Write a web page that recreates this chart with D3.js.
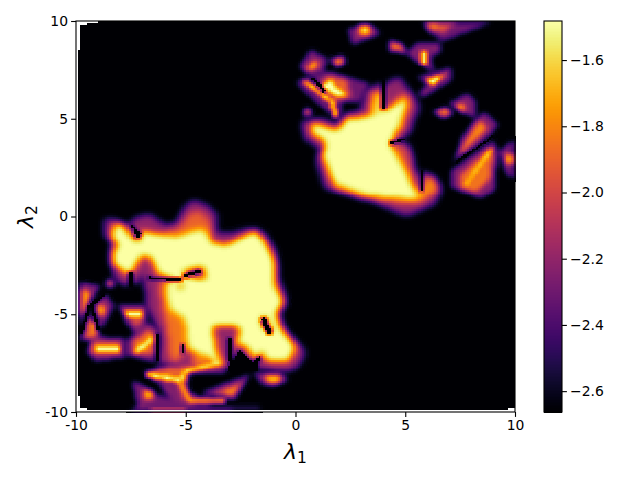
<!DOCTYPE html>
<html><head><meta charset="utf-8">
<script src="https://cdn.jsdelivr.net/npm/d3@7"></script>
<style>html,body{margin:0;background:#fff}svg{display:block}text{font-family:"DejaVu Sans";fill:#000}</style>
</head><body><svg id="c" width="640" height="480"></svg>
<script>
const xTicks=[-10,-5,0,5,10];
const yTicks=[-10,-5,0,5,10];
const colorbarTicks=[-1.6,-1.8,-2.0,-2.2,-2.4,-2.6];
const valueMin=-2.663, valueMax=-1.482;
const gridSize=200;
// Regions: [value, polygon in (lambda1, lambda2)], later ones on top.
const leftCluster=[
[-2.25,[[-9.85,-3.3],[-8.9,-3.55],[-9.5,-4.45],[-9.85,-5.9]]],
[-1.75,[[-9.75,-3.7],[-9.3,-3.9],[-9.55,-4.7],[-9.75,-5]]],
[-2.25,[[-9.35,-4.5],[-9.05,-5.7],[-8.95,-6.25],[-9.8,-6.25]]],
[-1.85,[[-9.4,-5.2],[-9.05,-5.4],[-9,-6.2],[-9.6,-6.2]]],
[-2.25,[[-9.3,-4.35],[-8.65,-3.95],[-8.25,-4.55],[-8.85,-5.7]]],
[-1.65,[[-9.05,-4.5],[-8.65,-4.5],[-8.7,-5],[-9,-5.05]]],
[-2.25,[[-8.05,-4.55],[-6.8,-4.5],[-6.75,-5.2],[-7.25,-6.1],[-7.7,-5.4]]],
[-1.95,[[-7.85,-4.7],[-6.9,-4.7],[-6.95,-5.25],[-7.25,-5.6],[-7.6,-5.1]]],
[-2.25,[[-9.5,-6.9],[-9.2,-6.1],[-7.8,-6.25],[-7.8,-7.15],[-9.05,-7.35]]],
[-1.85,[[-9.3,-6.35],[-7.95,-6.4],[-7.95,-7],[-9.3,-7]]],
[-2.25,[[-7.65,-6.3],[-6.7,-5.35],[-6.2,-5.8],[-6.4,-7.4],[-7.7,-7.05]]],
[-1.85,[[-7.45,-6.4],[-6.65,-5.75],[-6.4,-6],[-6.5,-7],[-7.45,-7]]],
[-1.95,[[-8.6,-3.2],[-8.3,-3.2],[-8.35,-3.65],[-8.6,-3.65]]]
];
const mainLower=[
[-2.2,[[-8.6,-0.8],[-8.6,-0.25],[-8.4,-0.2],[-7.55,-0.6],[-7.15,-0.1],[-6.65,0],[-5.95,-0.6],[-5.3,-0.35],[-4.9,0.5],[-4.6,0.7],[-4.15,0.5],[-3.7,0.1],[-3.75,-0.85],[-3,-0.95],[-1.95,-0.65],[-1.5,-0.95],[-1,-1.9],[-0.85,-3.25],[-0.6,-4.1],[-0.9,-4.95],[-0.6,-5.9],[0.35,-6.9],[-0.1,-7.7],[-0.6,-7.8],[-1.35,-7.7],[-2.4,-7.4],[-3.15,-7.7],[-4.8,-7.7],[-6.2,-7.35],[-6.05,-5.95],[-6.25,-5.45],[-6.65,-4.6],[-6.8,-3.15],[-7,-2.3],[-7.25,-3.25],[-7.7,-3.4],[-8.15,-3],[-8.3,-2.05],[-8.25,-1.2]]],
[-1.9,[[-5.9,-0.85],[-5.2,-0.6],[-4.75,0.05],[-4.45,0.15],[-4,-0.2],[-3.85,-1.2],[-5.7,-1.2]]],
[-1.85,[[-6.1,-3.35],[-5.8,-3.5],[-5.8,-4.6],[-5.05,-5.1],[-5,-6.65],[-5.6,-7.35],[-5.8,-5.55],[-6,-4.6]]],
[-1.482,[[-8.3,-1.1],[-8.25,-0.7],[-8.05,-0.35],[-7.7,-0.85],[-7.3,-1.35],[-7,-1.3],[-7,-0.8],[-5.4,-1.1],[-4.3,-0.65],[-3.85,-1.35],[-3.15,-1.55],[-1.85,-0.8],[-1.35,-1.55],[-1,-2.3],[-1,-3.6],[-0.6,-4.35],[-0.95,-4.85],[-0.75,-5.65],[-0.1,-6.65],[-0.4,-7.35],[-1.2,-7.25],[-1.35,-7.15],[-1.55,-6.5],[-1.8,-7.15],[-2.25,-6.5],[-2.6,-6.5],[-2.45,-5.7],[-2.7,-5.45],[-3.9,-5.45],[-3.6,-7.15],[-3.4,-7.5],[-4.2,-7.15],[-4.8,-6.65],[-5,-5.05],[-5.7,-4.6],[-5.85,-3.5],[-5.25,-3.15],[-6.2,-2.8],[-6.5,-2.05],[-7,-1.8],[-7.6,-2.8],[-8.25,-2.3],[-8.3,-1.9],[-7.85,-1.4]]],
[-2.2,[[-5.4,-3.25],[-5,-3.25],[-5.15,-4.15],[-5.35,-3.8]]],
[-2.2,[[-5.3,-3.1],[-5.05,-2.65],[-4.15,-2.4],[-4,-3.2]]],
[-1.85,[[-4.6,-6.75],[-3.5,-7.25],[-4.6,-7.65]]],
[-2.2,[[-1.65,-5.05],[-1.35,-4.85],[-0.95,-5.9],[-1.2,-6.1],[-1.6,-5.55]]],
[-2.2,[[-1.2,-6.7],[-0.6,-7.1],[-1.2,-7.15]]]
];
const lowerFeatures=[
[-2.25,[[-6.95,-7.95],[-6.05,-7.6],[-4.65,-7.2],[-3.15,-7.75],[-3.15,-7.95],[-4.8,-8],[-5.05,-8.85],[-4.35,-9.2],[-3.15,-9.35],[-5,-9.6],[-5.3,-9.6],[-5.9,-9.05],[-6.2,-8.55]]],
[-1.9,[[-6.7,-7.95],[-5.9,-7.75],[-3.4,-7.4],[-3.4,-7.7],[-5,-8],[-5.05,-8.4],[-4.75,-9.3],[-3.3,-9.3],[-5.05,-9.45],[-5.4,-8.45],[-6.45,-8.25]]],
[-2.25,[[-1.9,-8],[-0.6,-8],[-0.35,-8.4],[-1.05,-8.65],[-1.55,-8.55]]],
[-1.65,[[-1.4,-8.1],[-0.7,-8.15],[-0.7,-8.45],[-1.3,-8.45]]],
[-2.25,[[-4.35,-9],[-2.05,-8.05],[-2.8,-9.35]]],
[-1.8,[[-3.6,-8.95],[-2.4,-8.5],[-2.85,-9.15]]],
[-2.3,[[-7.55,-9.9],[-6.35,-9.05],[-5.9,-9.2],[-5.1,-9.6],[-1.65,-9.75],[-4.2,-9.95]]],
[-2.25,[[-7.45,-8.35],[-6.35,-9],[-6.45,-9.4],[-7.15,-9.8]]],
[-1.65,[[-6.9,-8.8],[-6.5,-8.9],[-6.5,-9.3],[-6.9,-9.3]]]
];
const upperMain=[
[-2.2,[[0.4,4.75],[1.1,4.95],[1.95,4.5],[2.4,5.2],[3.05,5.3],[3.25,6.4],[3.85,6.65],[3.9,5.45],[4.15,6.65],[4.65,7],[5.4,5.95],[5.5,5.6],[5.1,4.4],[4.5,3.9],[5.1,3.55],[5.35,2.45],[5.65,1.45],[5.8,2.3],[6.55,1.45],[6.25,0.75],[5.05,0.2],[3.5,0.95],[1.45,1.6],[1.05,3],[1.4,3.5],[0.55,4.1]]],
[-1.6,[[3.5,5.2],[3.6,6.3],[3.85,6.3],[3.85,5.2]]],
[-1.8,[[4.45,5.7],[5,6.2],[5.1,5.7],[4.75,4.5]]],
[-2.0,[[4.5,3.65],[5.1,3.5],[5.4,1.1],[4.9,2.1]]],
[-1.8,[[1.7,1.6],[3.2,1],[5.5,0.75],[6.4,1.45],[6.2,2.1],[5.7,1.3]]],
[-1.482,[[2.4,5],[3.75,5.1],[4.15,5.35],[5,5.95],[4.65,4.7],[4.35,4],[4.35,3.5],[4.95,2.3],[5.5,1],[4.45,1.1],[3.2,1.25],[1.8,1.85],[1.3,3.15],[1.5,3.9],[0.8,4.35],[0.8,4.7],[1.95,4.35]]]
];
const upperFeatures=[
[-2.3,[[1.55,7.45],[3.35,6.85],[2.95,5.9],[2.15,5.85],[2,4.9],[1.6,5.3],[0.15,6.65],[0.05,6.95],[0.7,7.2]]],
[-1.9,[[1.45,7.25],[2.35,7],[2.55,6.1],[1.8,6],[0.95,6.65]]],
[-2.25,[[0.15,7.65],[0.7,8.55],[1.45,8.1],[1.3,7.45],[0.65,7.25]]],
[-1.65,[[0.6,7.8],[1,8.05],[1,7.6],[0.5,7.45]]],
[-1.8,[[1.65,8.05],[2.25,8.25],[2.25,7.8],[1.85,7.7]]],
[-1.75,[[0.3,5.15],[0.55,5.6],[0.8,5.15]]],
[-2.25,[[2.4,9.6],[2.85,9.75],[3.45,9.75],[3.9,9.4],[2.6,8.8]]],
[-1.6,[[2.85,9.8],[3.4,9.8],[3.35,9.35],[2.85,9.25]]],
[-2.3,[[5.75,9.95],[9,9.95],[6.7,9],[5.95,9.55]]],
[-1.95,[[5.95,9.95],[7.4,9.95],[6.7,9.4],[6.1,9.6]]],
[-1.75,[[5.95,9.95],[6.6,9.95],[6.4,9.65],[6.1,9.65]]],
[-1.85,[[4.3,9.05],[4.9,8.8],[5,8.4],[4.3,8.55]]],
[-2.25,[[5.05,8.35],[5.55,8.9],[6.65,8.9],[6.6,8.45],[6.15,8.2],[6.3,7.45],[5.95,7.6]]],
[-2.25,[[5.6,7.15],[7.1,7.65],[7.1,7],[5.95,6.25],[5.6,6.25],[5.95,6.75]]],
[-1.85,[[6.35,5.35],[6.8,5.6],[7.2,5.3],[6.7,5.05]]],
[-2.25,[[7.05,5.85],[7.85,6.35],[8.2,5.9],[8.15,5.05],[7.4,5.45]]],
[-1.7,[[7.3,5.7],[7.7,5.85],[7.65,5.3]]],
[-2.25,[[7.2,2.75],[7.55,4],[8.2,5],[8.6,5.35],[9.25,4.75],[8.75,4.05]]],
[-1.8,[[7.55,3.55],[8.4,5],[8.75,4.6],[8.6,4.35],[7.45,3.15]]],
[-2.25,[[7.05,2.3],[9,3.95],[9.2,3.55],[9.1,1.4],[8.4,0.95],[7.1,1.55]]],
[-1.85,[[7.45,2.1],[8.85,3.5],[9,3.15],[8.85,1.95],[8.25,1.25],[7.55,1.5]]],
[-2.25,[[9.3,3.3],[9.95,4.05],[9.95,1.9],[9.6,2.25]]],
[-1.6,[[9.6,3.25],[9.95,3.25],[9.95,2.65],[9.6,2.65]]]
];
// Thin ridges, painted over the regions.
const ridges=[
[-1.5,[[-6.8,-7.95],[-5.2,-8.25],[-5.2,-8.5],[-6.8,-8.2]]],
[-1.55,[[-5.2,-8.25],[-5.1,-7.8],[-3.4,-7.35],[-3.4,-7.55],[-5,-8],[-5.05,-8.4]]],
[-1.7,[[-5.2,-8.4],[-4.75,-9.3],[-3.15,-9.25],[-3.15,-9.45],[-4.85,-9.5],[-5.4,-8.45]]],
[-1.85,[[-6.6,-9.75],[-5,-9.75],[-5,-9.95],[-6.6,-9.95]]],
[-1.5,[[-7.85,-4.75],[-7,-4.8],[-7,-5.1],[-7.7,-5.05]]],
[-1.5,[[-9.1,-6.6],[-8,-6.6],[-8,-6.9],[-9.1,-6.9]]],
[-1.5,[[-7.3,-6.75],[-6.5,-6.1],[-6.45,-6.35],[-7.25,-7]]],
[-1.482,[[1.6,7.05],[1.85,6.65],[2.45,6.15],[1.8,6.25],[1.1,6.65]]],
[-1.5,[[0.35,6.85],[1.6,5.85],[1.7,5.1],[1.95,5.15],[1.75,5.95],[0.45,7]]],
[-1.55,[[5.7,8.5],[6,8.5],[6,7.8],[5.7,7.8]]],
[-1.5,[[5.95,7.05],[6.9,7.3],[6.2,6.7]]],
[-1.5,[[7.75,1.55],[9,3.45],[8.85,3.5],[7.6,1.45]]]
];
const slits=[
[[-7.5,-0.35],[-7.05,-0.85],[-7.2,-1.15],[-7.45,-0.65]],
[[-6.65,-3.05],[-5.2,-3.15],[-5.2,-3.3],[-6.65,-3.2]],
[[-7.6,-2.8],[-7.45,-2.8],[-7.45,-3.6],[-7.6,-3.6]],
[[-5.05,-3.1],[-4.25,-2.85],[-4.25,-2.65],[-5.05,-2.9]],
[[-3.15,-6.15],[-2.95,-6.15],[-2.9,-7.4],[-3.1,-7.4]],
[[-3.1,-7.7],[-2.6,-6.8],[-1.95,-7.35],[-1.6,-7.1],[-1.75,-7.9],[-3,-8]],
[[-5.2,-6.55],[-5.05,-6.55],[-5.05,-7],[-5.2,-7]],
[[-1.6,-5.2],[-1.4,-5.05],[-1.05,-6],[-1.25,-6.05]],
[[-8.7,-3.9],[-9.35,-4.4],[-9.4,-4.65],[-8.75,-4.15]],
[[-9.45,-4.5],[-9.85,-6],[-9.7,-6],[-9.3,-4.5]],
[[-9.4,-4.5],[-9.05,-5.8],[-8.9,-5.8],[-9.25,-4.5]],
[[-6.35,-5.95],[-6.15,-5.95],[-6.25,-7.45],[-6.45,-7.45]],
[[3.93,7],[4.07,7],[4.07,5.5],[3.93,5.5]],
[[4.3,3.7],[5,3.9],[5,4.05],[4.3,3.85]],
[[5.65,2.45],[5.85,2.45],[5.85,1.3],[5.7,1.3]],
[[0.7,7.05],[1.25,6.35],[1.4,6.45],[0.85,7.15]],
[[7.3,2.7],[9,4.0],[9,4.2],[7.3,2.9]]
];
// Cells with no value: [x0,x1,y0,y1].
const blankCells=[[-10,-9.9,-10,10],[-9.9,-9.8,-9.9,-9.2],[-9.8,-9.5,-9.9,-9.8],[-9.9,-9.5,9.8,10],[-9.5,-9,9.9,10],[-9.9,-9.8,8.5,9.8],[9.7,10,-9.9,-9.8],[-10,10,-10,-9.9]];

const svg=d3.select('#c');
const x=d3.scaleLinear().domain([-10,10]).range([76,515]);
const y=d3.scaleLinear().domain([-10,10]).range([412,21]);
const colorT=d3.scaleLinear().domain([valueMin,valueMax]).range([0,1]).clamp(true);
const color=v=>d3.interpolateInferno(colorT(v));
const cell=d3.scaleLinear().domain([0,gridSize]).range([-10,10]);

function paint(grid,value,poly){
  const [x0,x1]=d3.extent(poly,p=>p[0]),[y0,y1]=d3.extent(poly,p=>p[1]);
  for(let j=0;j<gridSize;j++){const cy=cell(j+.5);if(cy<y0||cy>y1)continue;
    for(let i=0;i<gridSize;i++){const cx=cell(i+.5);if(cx<x0||cx>x1)continue;
      if(d3.polygonContains(poly,[cx,cy]))grid[j*gridSize+i]=value;}}
}
function neighbours(src,fn){
  const out=new Float64Array(src.length),n=gridSize;
  for(let j=0;j<n;j++)for(let i=0;i<n;i++){const a=[];
    for(let b=-1;b<=1;b++)for(let c=-1;c<=1;c++){const u=i+c,w=j+b;if(u<0||w<0||u>=n||w>=n)continue;a.push(src[w*n+u]);}
    out[j*n+i]=fn(a);}
  return out;
}
const soften=g=>neighbours(g,d3.mean), grow=g=>neighbours(g,d3.max);
const blank=()=>new Float64Array(gridSize*gridSize).fill(valueMin);
let coreGrid=blank();
[...mainLower,...upperMain].forEach(([v,p])=>paint(coreGrid,v,p));
coreGrid=soften(soften(soften(grow(coreGrid))));
let facetGrid=blank();
[...leftCluster,...upperFeatures,...lowerFeatures].forEach(([v,p])=>paint(facetGrid,v,p));
facetGrid=soften(facetGrid);
let grid=coreGrid.map((v,k)=>Math.max(v,facetGrid[k]));
ridges.forEach(([v,p])=>paint(grid,v,p));
slits.forEach(p=>paint(grid,valueMin,p));
grid=soften(grid);
slits.forEach(p=>paint(grid,valueMin,p));

const cells=[];
for(let j=0;j<gridSize;j++)for(let i=0;i<gridSize;i++){
  const v=grid[j*gridSize+i];
  if(v>valueMin+0.01)cells.push({i,j,v});
}
const heat=svg.append('g').attr('shape-rendering','crispEdges');
heat.append('rect').attr('x',x(-10)).attr('y',y(10)).attr('width',x(10)-x(-10)).attr('height',y(-10)-y(10)).attr('fill',color(valueMin));
heat.selectAll('rect.c').data(cells).join('rect').attr('class','c')
 .attr('x',d=>x(cell(d.i))).attr('y',d=>y(cell(d.j+1)))
 .attr('width',d=>x(cell(d.i+1))-x(cell(d.i))+.5).attr('height',d=>y(cell(d.j))-y(cell(d.j+1))+.5)
 .attr('fill',d=>color(d.v));
heat.selectAll('rect.b').data(blankCells).join('rect').attr('class','b')
 .attr('x',d=>x(d[0])).attr('y',d=>y(d[3])).attr('width',d=>x(d[1])-x(d[0])).attr('height',d=>y(d[2])-y(d[3])).attr('fill','#fff');

const fmt=d=>String(d);
const xa=svg.append('g').attr('transform','translate(0,412)').call(d3.axisBottom(x).tickValues(xTicks).tickFormat(fmt).tickSize(4.9).tickSizeOuter(0));
const ya=svg.append('g').attr('transform','translate(76,0)').call(d3.axisLeft(y).tickValues(yTicks).tickFormat(fmt).tickSize(4.9).tickSizeOuter(0));
[xa,ya].forEach(g=>{g.select('.domain').remove();g.selectAll('text').style('font-family','DejaVu Sans').style('font-size','13.9px');g.selectAll('line').attr('stroke-width',1.1);});
xa.selectAll('text').attr('y',8.5);
ya.selectAll('text').attr('x',-8);
svg.append('rect').attr('x',76).attr('y',21).attr('width',439).attr('height',391).attr('fill','none').attr('stroke','#000').attr('stroke-width',1.1);

function axisLabel(tx,ty,sub,rot){
  const t=svg.append('text').attr('text-anchor','middle').attr('transform',`translate(${tx},${ty}) rotate(${rot})`).style('font-size','22px');
  t.append('tspan').style('font-style','italic').text('λ');
  t.append('tspan').attr('dy',3.5).style('font-size','15.5px').text(sub);
}
axisLabel(295.5,459,'1',0);
axisLabel(33,216.5,'2',-90);

const cb=d3.scaleLinear().domain([valueMin,valueMax]).range([412,21]);
const cbSteps=d3.range(0,256);
svg.append('g').attr('shape-rendering','crispEdges').selectAll('rect').data(cbSteps).join('rect')
 .attr('x',544).attr('width',18)
 .attr('y',d=>cb(valueMin+(valueMax-valueMin)*(d+1)/256)).attr('height',391/256+.6)
 .attr('fill',d=>d3.interpolateInferno(d/255));
const ca=svg.append('g').attr('transform','translate(562,0)').call(d3.axisRight(cb).tickValues(colorbarTicks).tickFormat(d=>'\u2212'+Math.abs(d).toFixed(1)).tickSize(4.9).tickSizeOuter(0));
ca.select('.domain').remove();ca.selectAll('text').style('font-family','DejaVu Sans').style('font-size','13.9px').attr('x',8);ca.selectAll('line').attr('stroke-width',1.1);
svg.append('rect').attr('x',544).attr('y',21).attr('width',18).attr('height',391).attr('fill','none').attr('stroke','#000').attr('stroke-width',1.1);
</script></body></html>
